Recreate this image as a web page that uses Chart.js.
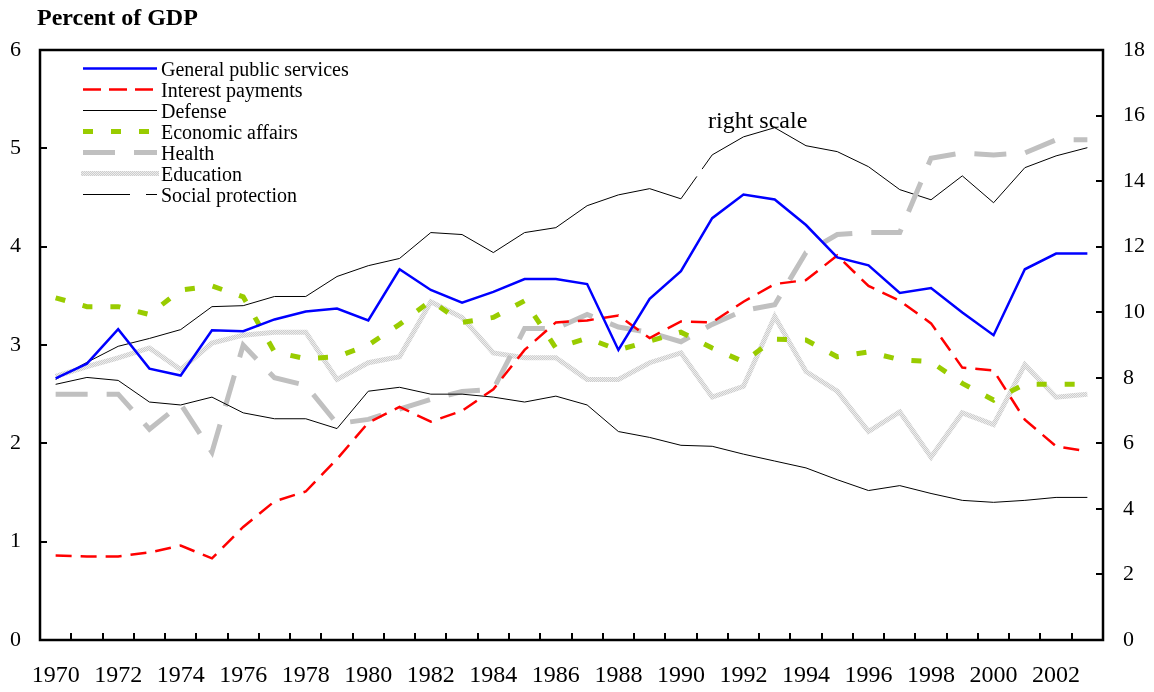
<!DOCTYPE html>
<html>
<head>
<meta charset="utf-8">
<script src="https://cdn.jsdelivr.net/npm/chart.js@4.4.0/dist/chart.umd.min.js"></script>
<style>
  html, body { margin: 0; padding: 0; background: #fff; }
</style>
</head>
<body>
<canvas id="chart" width="1154" height="692"></canvas>
<script>
// Categories and tick labels
const years = ['1970','1971','1972','1973','1974','1975','1976','1977','1978','1979',
               '1980','1981','1982','1983','1984','1985','1986','1987','1988','1989',
               '1990','1991','1992','1993','1994','1995','1996','1997','1998','1999',
               '2000','2001','2002','2003'];
const leftTicks = [0, 1, 2, 3, 4, 5, 6];
const rightTicks = [0, 2, 4, 6, 8, 10, 12, 14, 16, 18];

// Series, percent of GDP (left scale)
const generalPublic = [2.66,2.81,3.16,2.76,2.69,3.15,3.14,3.26,3.34,3.37,
                       3.25,3.77,3.56,3.43,3.54,3.67,3.67,3.62,2.95,3.47,
                       3.75,4.29,4.53,4.48,4.22,3.89,3.81,3.53,3.58,3.33,
                       3.10,3.77,3.93,3.93];
const interestPayments = [0.86,0.85,0.85,0.89,0.96,0.83,1.15,1.41,1.51,1.84,
                          2.21,2.37,2.22,2.33,2.55,2.95,3.23,3.25,3.30,3.07,
                          3.24,3.23,3.44,3.62,3.66,3.91,3.60,3.45,3.22,2.77,
                          2.74,2.24,1.97,1.92];
const defense = [2.60,2.67,2.64,2.42,2.39,2.47,2.31,2.25,2.25,2.15,
                 2.53,2.57,2.50,2.50,2.47,2.42,2.48,2.39,2.12,2.06,
                 1.98,1.97,1.89,1.82,1.75,1.63,1.52,1.57,1.49,1.42,
                 1.40,1.42,1.45,1.45];
const economicAffairs = [3.48,3.39,3.39,3.31,3.56,3.60,3.49,2.93,2.86,2.88,
                         3.00,3.21,3.45,3.23,3.28,3.45,2.97,3.07,2.95,3.04,
                         3.13,2.97,2.83,3.06,3.05,2.88,2.93,2.85,2.83,2.61,
                         2.44,2.60,2.60,2.60];
const education = [2.68,2.78,2.87,2.97,2.75,3.02,3.10,3.13,3.13,2.65,
                   2.82,2.88,3.44,3.28,2.92,2.87,2.87,2.65,2.65,2.82,
                   2.92,2.47,2.58,3.29,2.73,2.53,2.12,2.32,1.86,2.31,
                   2.19,2.80,2.47,2.50];

// Series on the right scale
const health = [7.50,7.50,7.50,6.43,7.20,5.73,9.00,8.00,7.77,6.60,
                6.73,7.04,7.34,7.58,7.65,9.50,9.50,9.93,9.55,9.38,
                9.10,9.63,10.05,10.23,11.82,12.37,12.43,12.43,14.70,14.86,
                14.80,14.86,15.26,15.26];
const socialProtection = [7.95,8.47,8.96,9.20,9.47,10.17,10.20,10.48,10.48,11.09,
                          11.42,11.64,12.43,12.37,11.82,12.43,12.58,13.25,13.58,13.77,
                          13.46,14.80,15.35,15.63,15.08,14.90,14.44,13.74,13.43,14.16,
                          13.34,14.41,14.77,15.02];

const SERIF = '"Liberation Serif", "Times New Roman", serif';
const canvas = document.getElementById('chart');

// speckled grey for the education line
function speckle() {
    const c = document.createElement('canvas');
    c.width = 4; c.height = 4;
    const g = c.getContext('2d');
    g.fillStyle = '#cdcdcd';
    g.fillRect(0, 0, 4, 4);
    g.fillStyle = '#ededed';
    [[0,0],[2,0],[1,1],[3,1],[0,2],[2,2],[1,3],[3,3]].forEach(p => g.fillRect(p[0], p[1], 1, 1));
    return canvas.getContext('2d').createPattern(c, 'repeat');
}
const eduPattern = speckle();

const legendDash = [[], [18, 8], [], [10, 18], [32, 19], [], [47, 16, 11, 100]];

// frame, inward tick marks, legend, title and note
const decor = {
    id: 'decor',
    afterDatasetsDraw(chart) {
        const { ctx, chartArea: a, scales } = chart;
        ctx.save();
        ctx.strokeStyle = '#000';
        ctx.lineWidth = 2.5;
        ctx.strokeRect(a.left, a.top, a.right - a.left, a.bottom - a.top);

        ctx.lineWidth = 2;
        ctx.beginPath();
        leftTicks.slice(1, -1).forEach(v => {
            const y = Math.round(scales.y.getPixelForValue(v));
            ctx.moveTo(a.left, y); ctx.lineTo(a.left + 7, y);
        });
        rightTicks.slice(1, -1).forEach(v => {
            const y = Math.round(scales.y2.getPixelForValue(v));
            ctx.moveTo(a.right, y); ctx.lineTo(a.right - 7, y);
        });
        const step = (a.right - a.left) / years.length;
        for (let i = 1; i < years.length; i++) {
            const x = Math.round(a.left + i * step);
            ctx.moveTo(x, a.bottom); ctx.lineTo(x, a.bottom - 7);
        }
        ctx.stroke();

        // legend
        chart.data.datasets.forEach((ds, i) => {
            const y = 68.5 + i * 21;
            ctx.beginPath();
            ctx.setLineDash(legendDash[i]);
            ctx.lineWidth = ds.borderWidth;
            ctx.strokeStyle = ds.borderColor;
            ctx.moveTo(i === 5 ? 81 : 83, y);
            ctx.lineTo(i === 5 ? 159 : 157, y);
            ctx.stroke();
            ctx.setLineDash([]);
            ctx.fillStyle = '#000';
            ctx.font = '20px ' + SERIF;
            ctx.textBaseline = 'alphabetic';
            ctx.fillText(ds.label, 161, y + 7.5);
        });

        ctx.font = 'bold 24px ' + SERIF;
        ctx.fillText('Percent of GDP', 37, 25);
        ctx.font = '24px ' + SERIF;
        ctx.fillText('right scale', 708, 128);
        ctx.restore();
    }
};

const common = { pointRadius: 0, fill: false, tension: 0, borderCapStyle: 'butt' };

new Chart(canvas, {
    type: 'line',
    data: {
        labels: years,
        datasets: [
            { ...common, label: 'General public services', data: generalPublic, borderColor: '#0000ff', borderWidth: 2.5, yAxisID: 'y', order: 0 },
            { ...common, label: 'Interest payments', data: interestPayments, borderColor: '#ff0000', borderWidth: 2.5, borderDash: [16, 9], yAxisID: 'y', order: 1 },
            { ...common, label: 'Defense', data: defense, borderColor: '#000000', borderWidth: 1, yAxisID: 'y', order: 2 },
            { ...common, label: 'Economic affairs', data: economicAffairs, borderColor: '#99cc00', borderWidth: 5, borderDash: [10, 18], yAxisID: 'y', order: 3 },
            { ...common, label: 'Health', data: health, borderColor: '#c0c0c0', borderWidth: 5, borderDash: [32, 19], yAxisID: 'y2', order: 4 },
            { ...common, label: 'Education', data: education, borderColor: eduPattern, borderWidth: 5, yAxisID: 'y', order: 5 },
            { ...common, label: 'Social protection', data: socialProtection, borderColor: '#000000', borderWidth: 1, borderDash: [712, 9], yAxisID: 'y2', order: 6 }
        ]
    },
    options: {
        responsive: false,
        animation: false,
        layout: { padding: { top: 50, left: 0, right: 0, bottom: 0 } },
        plugins: { legend: { display: false }, tooltip: { enabled: false } },
        scales: {
            x: {
                type: 'category',
                offset: true,
                grid: { display: false, drawTicks: false },
                border: { display: false },
                ticks: {
                    autoSkip: false, maxRotation: 0, padding: 21, color: '#000',
                    font: { family: SERIF, size: 24 },
                    callback: (v, i) => (i % 2 === 0 ? years[i] : '')
                },
                afterFit: s => { s.height = 52; }
            },
            y: {
                position: 'left', min: 0, max: 6,
                grid: { display: false, drawTicks: false },
                border: { display: false },
                ticks: { stepSize: 1, padding: 19, color: '#000', font: { family: SERIF, size: 22 } },
                afterFit: s => { s.width = 40; }
            },
            y2: {
                position: 'right', min: 0, max: 18,
                grid: { display: false, drawTicks: false },
                border: { display: false },
                ticks: { stepSize: 2, padding: 20, color: '#000', font: { family: SERIF, size: 22 } },
                afterFit: s => { s.width = 51; }
            }
        }
    },
    plugins: [decor]
});
</script>
</body>
</html>
